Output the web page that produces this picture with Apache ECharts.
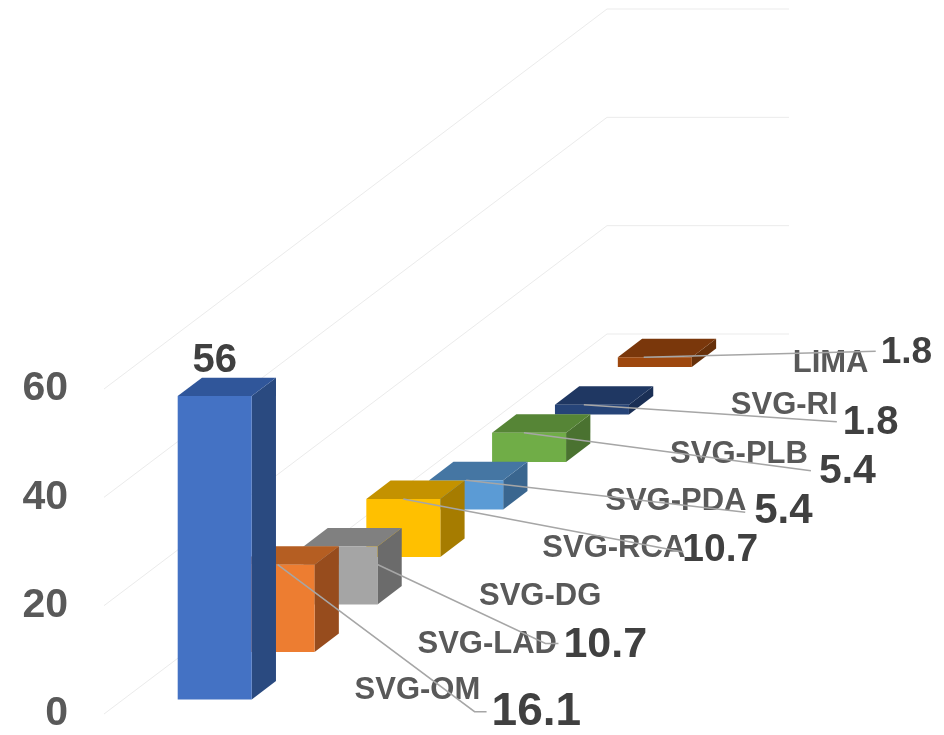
<!DOCTYPE html>
<html>
<head>
<meta charset="utf-8">
<script src="https://cdn.jsdelivr.net/npm/echarts@6/dist/echarts.min.js"></script>
<style>
  html, body { margin: 0; padding: 0; background: #ffffff; }
  #chart { width: 944px; height: 735px; }
</style>
</head>
<body>
<div id="chart"></div>
<script>
// ---- data ----
const categories = ['', 'SVG-OM', 'SVG-LAD', 'SVG-RCA', 'SVG-PDA', 'SVG-PLB', 'SVG-RI', 'LIMA'];
const values = [56, 16.1, 10.7, 10.7, 5.4, 5.4, 1.8, 1.8];
const yTicks = [0, 20, 40, 60];
const looseLabel = 'SVG-DG';

// ---- styling ----
const palette = [
  { front: '#4472C4', top: '#30569A', side: '#2A4A80' },
  { front: '#ED7D31', top: '#B55E22', side: '#974C1D' },
  { front: '#A5A5A5', top: '#808080', side: '#6B6B6B' },
  { front: '#FFC000', top: '#C49200', side: '#A67C00' },
  { front: '#5B9BD5', top: '#4576A3', side: '#3A668F' },
  { front: '#70AD47', top: '#568536', side: '#4A7230' },
  { front: '#264478', top: '#1F3762', side: '#1A2F55' },
  { front: '#9E480E', top: '#7A370B', side: '#66300A' }
];
const FONT = '"Liberation Sans", Arial, Helvetica, sans-serif';
const NAME_COLOR = '#595959';
const VALUE_COLOR = '#404040';
const LEADER_COLOR = '#A6A6A6';
const GRID_COLOR = '#EBEBEB';

// oblique 3D projection: depth moves points right and up
const SLOPE = 380 / 503;
const FLOOR_W = 182;           // lateral width of the floor / back wall
const BAR_X = 54.4;            // bar offset from the side wall
const BAR_W = 74;              // bar width
const BAR_D0 = 0.307, BAR_D1 = 0.693;   // bar depth span inside its slot

// label placement, offsets from each bar's leader anchor
// ax: anchor along front edge (fraction of width), ay: drop below top edge
const labelLayout = [
  null,
  { ax: 0.5,  ay: 0,  name: [77, 126, 'left'],  value: [214, 148, 46], leader: [[197, 147], [209, 147]] },
  { ax: 1.0,  ay: 18, name: [40, 80, 'left'],   value: [186, 81, 43],  leader: [[168, 79], [181, 79]] },
  { ax: 0.5,  ay: 0,  name: [139, 49, 'left'],  value: [279, 51, 39],  leader: [[280, 53]] },
  { ax: 0.5,  ay: 0,  name: [139, 21, 'left'],  value: [288, 31, 42],  leader: [[279, 32]] },
  { ax: 0.43, ay: 0,  name: [284, 22, 'right'], value: [295, 39, 41],  leader: [[287, 38]] },
  { ax: 0.39, ay: 0,  name: [147, 1, 'left'],   value: [259, 18, 40],  leader: [[253, 17]] },
  { ax: 0.35, ay: 0,  name: [149, 6, 'left'],   value: [237, -4, 37],  leader: [[232, -6]] }
];

function project(api, d, v, lat) {
  const p = api.coord([d, v]);
  const x0 = api.coord([0, 0])[0];
  return [p[0] + lat, p[1] - (p[0] - x0) * SLOPE];
}

function textEl(text, x, y, size, color, align, z2) {
  return {
    type: 'text',
    z2: z2,
    style: {
      text: text, x: x, y: y,
      fill: color,
      fontFamily: FONT, fontWeight: 'bold', fontSize: size,
      align: align || 'left', verticalAlign: 'middle'
    }
  };
}

const depthCount = values.length;

const chart = echarts.init(document.getElementById('chart'), null, { renderer: 'canvas' });

chart.setOption({
  animation: false,
  backgroundColor: '#ffffff',
  grid: { left: 104, top: 389, width: 503, height: 325 },
  xAxis: { type: 'value', min: 0, max: depthCount, show: false },
  yAxis: {
    type: 'value', min: 0, max: 60, interval: 20,
    axisLine: { show: false }, axisTick: { show: false }, splitLine: { show: false },
    axisLabel: {
      margin: 36, color: NAME_COLOR, fontSize: 41, fontWeight: 'bold', fontFamily: FONT
    }
  },
  graphic: [],
  series: [
    {
      // side-wall and back-wall gridlines
      type: 'custom',
      z: 1,
      silent: true,
      data: yTicks.map(v => [0, v]),
      renderItem: function (params, api) {
        const v = api.value(1);
        const a = project(api, 0, v, 0);
        const b = project(api, depthCount, v, 0);
        const c = project(api, depthCount, v, FLOOR_W);
        return {
          type: 'polyline',
          shape: { points: [a, b, c] },
          style: { stroke: GRID_COLOR, lineWidth: 1, fill: null }
        };
      }
    },
    {
      // columns, back ones first
      type: 'custom',
      z: 2,
      silent: true,
      data: values.map((v, i) => [i, v]).reverse(),
      renderItem: function (params, api) {
        const i = api.value(0), v = api.value(1);
        const c = palette[i];
        const d0 = i + BAR_D0, d1 = i + BAR_D1;
        const l = BAR_X, r = BAR_X + BAR_W;
        const fbl = project(api, d0, 0, l), fbr = project(api, d0, 0, r);
        const ftr = project(api, d0, v, r), ftl = project(api, d0, v, l);
        const bbr = project(api, d1, 0, r), btr = project(api, d1, v, r), btl = project(api, d1, v, l);
        const zb = (depthCount - i) * 3;
        return {
          type: 'group',
          children: [
            { type: 'polygon', z2: zb, shape: { points: [fbr, bbr, btr, ftr] }, style: { fill: c.side } },
            { type: 'polygon', z2: zb + 1, shape: { points: [ftl, ftr, btr, btl] }, style: { fill: c.top } },
            { type: 'polygon', z2: zb + 2, shape: { points: [fbl, fbr, ftr, ftl] }, style: { fill: c.front } }
          ]
        };
      }
    },
    {
      // data labels with leader lines
      type: 'custom',
      z: 3,
      silent: true,
      data: values.map((v, i) => [i, v]),
      renderItem: function (params, api) {
        const i = api.value(0), v = api.value(1);
        const ftl = project(api, i + BAR_D0, v, BAR_X);
        const valueText = String(values[i]);
        if (!labelLayout[i]) {
          return textEl(valueText, ftl[0] + BAR_W / 2, ftl[1] - 35, 40, VALUE_COLOR, 'center', 1);
        }
        const L = labelLayout[i];
        const anchor = [ftl[0] + L.ax * BAR_W, ftl[1] + L.ay];
        const pts = [anchor].concat(L.leader.map(o => [anchor[0] + o[0], anchor[1] + o[1]]));
        return {
          type: 'group',
          children: [
            textEl(categories[i], anchor[0] + L.name[0], anchor[1] + L.name[1], 31, NAME_COLOR, L.name[2], 1),
            textEl(valueText, anchor[0] + L.value[0], anchor[1] + L.value[1], L.value[2], VALUE_COLOR, 'left', 1),
            {
              type: 'polyline', z2: 5,
              shape: { points: pts },
              style: { stroke: LEADER_COLOR, lineWidth: 1.5, fill: null }
            }
          ]
        };
      }
    }
  ]
});

// the category tag that carries no column
chart.setOption({
  graphic: [{
    type: 'text', x: 479, y: 596, z: 10,
    style: {
      text: looseLabel, fill: NAME_COLOR,
      fontFamily: FONT, fontWeight: 'bold', fontSize: 31,
      align: 'left', verticalAlign: 'middle'
    }
  }]
});
</script>
</body>
</html>
